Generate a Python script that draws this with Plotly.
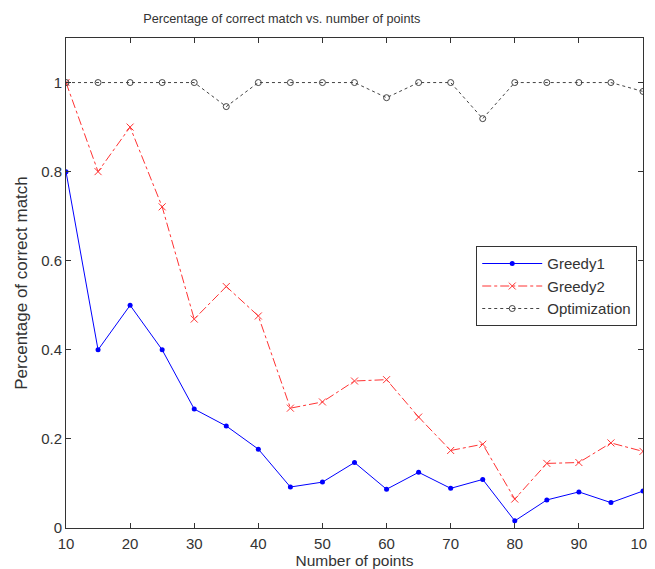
import plotly.graph_objects as go

n_points = [10, 15, 20, 25, 30, 35, 40, 45, 50, 55, 60, 65, 70, 75, 80, 85, 90, 95, 100]
greedy1 = [0.80, 0.40, 0.50, 0.40, 0.267, 0.229, 0.177, 0.092, 0.103, 0.147, 0.087, 0.125,
           0.089, 0.109, 0.016, 0.063, 0.081, 0.057, 0.083]
greedy2 = [1.00, 0.80, 0.90, 0.721, 0.469, 0.542, 0.476, 0.269, 0.283, 0.330, 0.333, 0.249,
           0.174, 0.188, 0.065, 0.145, 0.147, 0.191, 0.172]
optimization = [1.0, 1.0, 1.0, 1.0, 1.0, 0.946, 1.0, 1.0, 1.0, 1.0, 0.966, 1.0,
                1.0, 0.919, 1.0, 1.0, 1.0, 1.0, 0.980]
x_ticks = [10, 20, 30, 40, 50, 60, 70, 80, 90, 100]
y_ticks = [0, 0.2, 0.4, 0.6, 0.8, 1]
y_tick_labels = ["0", "0.2", "0.4", "0.6", "0.8", "1"]

font = "Liberation Sans, Arial, sans-serif"
txt = "#333333"

fig = go.Figure()
fig.add_trace(go.Scatter(x=n_points, y=greedy1, name="Greedy1", mode="lines+markers",
                         line=dict(color="#0000ff", width=1),
                         marker=dict(symbol="circle", size=5, color="#0000ff")))
fig.add_trace(go.Scatter(x=n_points, y=greedy2, name="Greedy2", mode="lines+markers",
                         line=dict(color="#ff3333", width=1, dash="dashdot"),
                         marker=dict(symbol="x-thin-open", size=7,
                                     line=dict(color="#ff3333", width=1))))
fig.add_trace(go.Scatter(x=n_points, y=optimization, name="Optimization", mode="lines+markers",
                         line=dict(color="#444444", width=1, dash="dot"),
                         marker=dict(symbol="circle-open", size=6,
                                     line=dict(color="#333333", width=1))))

axis_common = dict(showgrid=False, zeroline=False, showline=True, linecolor="#333333",
                   linewidth=1, mirror="ticks", ticks="inside", ticklen=5,
                   tickcolor="#333333", automargin=False,
                   tickfont=dict(family=font, size=15, color=txt))

fig.update_layout(
    width=655, height=561,
    margin=dict(l=58, r=20, t=30, b=41),
    paper_bgcolor="white", plot_bgcolor="white",
    title=dict(text="Percentage of correct match vs. number of points",
               x=0.418, xanchor="center", y=0.982, yanchor="middle",
               font=dict(family=font, size=12.7, color=txt)),
    xaxis=dict(range=[10, 100], tickvals=x_ticks, ticklabelstandoff=2,
               title=dict(text="Number of points", standoff=3,
                          font=dict(family=font, size=15.5, color=txt)),
               **axis_common),
    yaxis=dict(range=[0, 1.1], tickvals=y_ticks, ticktext=y_tick_labels,
               title=dict(text="Percentage of correct match", standoff=9,
                          font=dict(family=font, size=17, color=txt)),
               **axis_common),
    legend=dict(x=0.99, xanchor="right", y=0.575, yanchor="top",
                bgcolor="white", bordercolor="#333333", borderwidth=1,
                font=dict(family=font, size=15, color=txt),
                tracegroupgap=0, itemwidth=60),
    showlegend=True,
)

fig.write_html("out.html")
